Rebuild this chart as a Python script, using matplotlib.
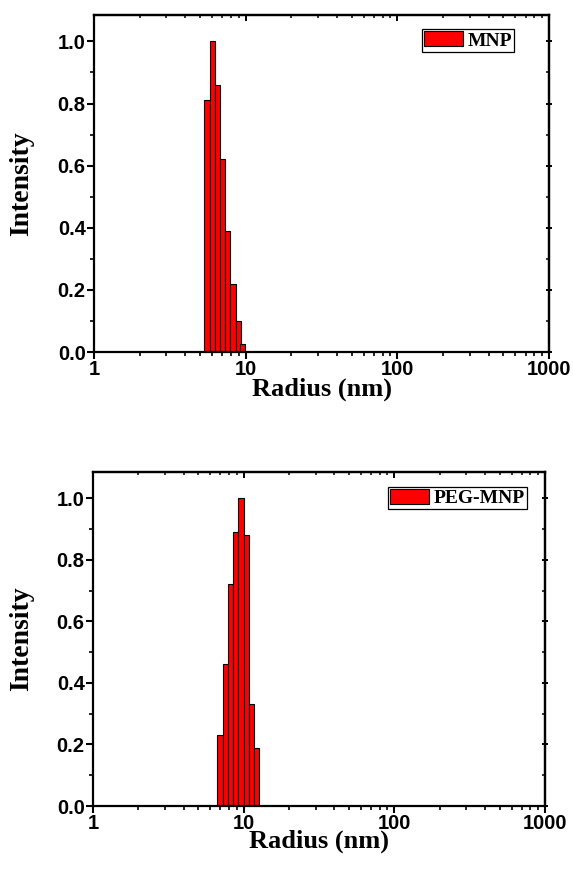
import matplotlib.pyplot as plt
import numpy as np
from matplotlib.ticker import LogLocator, MultipleLocator, FixedFormatter, FixedLocator

# MNP size distribution (radius in nm, normalised intensity)
mnp_radius = [5.57, 6.05, 6.52, 7.03, 7.6, 8.25, 8.95, 9.55]
mnp_intensity = [0.81, 1.0, 0.86, 0.62, 0.39, 0.22, 0.10, 0.025]

# PEG-MNP size distribution
peg_radius = [6.97, 7.56, 8.2, 8.87, 9.6, 10.4, 11.3, 12.1]
peg_intensity = [0.23, 0.46, 0.72, 0.89, 1.0, 0.88, 0.33, 0.19]

x_ticks = [1, 10, 100, 1000]
x_ticklabels = ["1", "10", "100", "1000"]

serif = "Liberation Serif"
sans = "Liberation Sans"

fig = plt.figure(figsize=(5.73, 8.73), dpi=100)
W, H = 573, 873


def panel(rect, radius, intensity, label, leg_anchor, xlab_y):
    ax = fig.add_axes(rect)
    r = np.array(radius)
    # bars equally wide in log space
    step = 10 ** 0.035
    left = r / np.sqrt(step)
    right = r * np.sqrt(step)
    ax.bar(left, intensity, width=right - left, align='edge',
           color='#ff0000', edgecolor='black', linewidth=0.8, label=label)
    ax.set_xscale('log')
    ax.set_xlim(1, 1000)
    ax.set_ylim(0, 1.085)
    ax.xaxis.set_major_locator(FixedLocator(x_ticks))
    ax.xaxis.set_major_formatter(FixedFormatter(x_ticklabels))
    ax.xaxis.set_minor_locator(LogLocator(base=10, subs=np.arange(2, 10)))
    ax.xaxis.set_minor_formatter(plt.NullFormatter())
    ax.yaxis.set_major_locator(MultipleLocator(0.2))
    ax.yaxis.set_minor_locator(MultipleLocator(0.1))
    ax.yaxis.set_major_formatter(plt.FuncFormatter(lambda v, p: f"{v:.1f}"))
    for s in ax.spines.values():
        s.set_linewidth(1.6)
    ax.tick_params(which='major', direction='out', length=5, width=1.5,
                   labelsize=14.5, pad=1)
    ax.tick_params(which='minor', direction='out', length=3, width=1.2)
    for lab in ax.get_xticklabels() + ax.get_yticklabels():
        lab.set_fontfamily(sans)
        lab.set_fontweight('bold')

    # inward ticks on top and right
    top = ax.secondary_xaxis('top')
    top.xaxis.set_major_locator(FixedLocator(x_ticks))
    top.xaxis.set_minor_locator(LogLocator(base=10, subs=np.arange(2, 10)))
    top.tick_params(which='major', direction='in', length=4, width=1.4,
                    labeltop=False)
    top.tick_params(which='minor', direction='in', length=2.5, width=1.1,
                    labeltop=False)
    rgt = ax.secondary_yaxis('right')
    rgt.yaxis.set_major_locator(MultipleLocator(0.2))
    rgt.yaxis.set_minor_locator(MultipleLocator(0.1))
    rgt.tick_params(which='major', direction='inout', length=5, width=1.4,
                    labelright=False)
    rgt.tick_params(which='minor', direction='in', length=2.5, width=1.1,
                    labelright=False)
    for sa in (top, rgt):
        for s in sa.spines.values():
            s.set_linewidth(1.6)

    ax.set_xlabel("Radius (nm)", fontfamily=serif, fontweight='bold',
                  fontsize=19)
    ax.set_ylabel("Intensity", fontfamily=serif, fontweight='bold',
                  fontsize=20)
    ax.xaxis.set_label_coords(0.5, xlab_y)
    ax.yaxis.set_label_coords(-0.158, 0.5)
    ax.yaxis.label.set_va('center')
    leg = ax.legend(loc='upper right', bbox_to_anchor=leg_anchor,
                    prop={'family': serif, 'weight': 'bold', 'size': 14},
                    fancybox=False, framealpha=1, edgecolor='black',
                    handlelength=2.0, handleheight=0.8, borderpad=0.1,
                    handletextpad=0.25, borderaxespad=0)
    leg.get_frame().set_linewidth(0.9)
    return ax


panel([94 / W, (H - 352) / H, 455 / W, 337 / H], mnp_radius, mnp_intensity,
      "MNP", (0.923, 0.957), -0.076)
panel([93 / W, (H - 806) / H, 452 / W, 334 / H], peg_radius, peg_intensity,
      "PEG-MNP", (0.96, 0.955), -0.072)

fig.savefig("out.png", dpi=100)
